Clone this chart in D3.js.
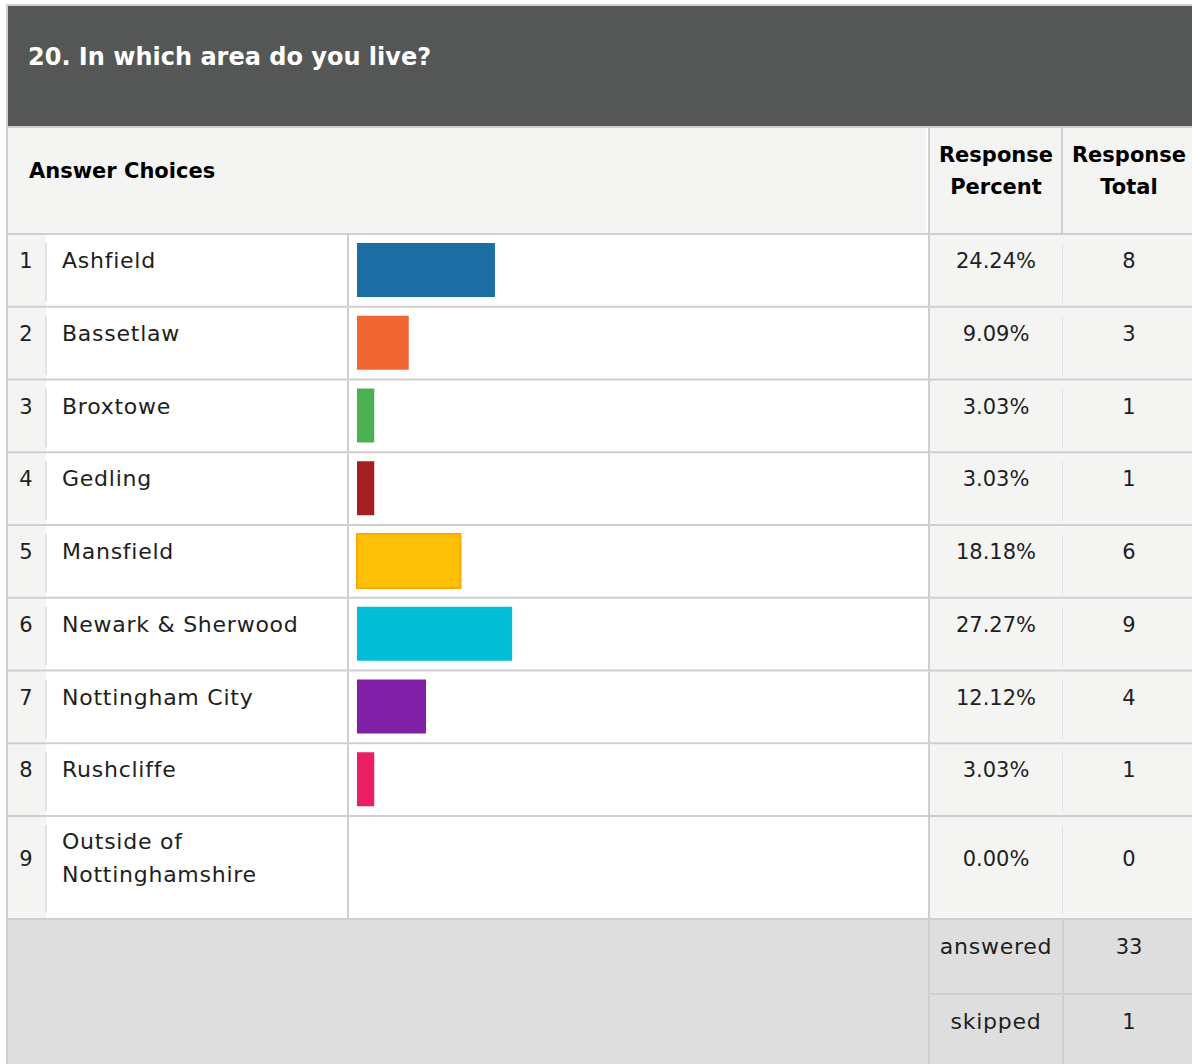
<!DOCTYPE html>
<html>
<head>
<meta charset="utf-8">
<script src="https://cdn.jsdelivr.net/npm/d3@7/dist/d3.min.js"></script>
<style>
  html, body { margin: 0; padding: 0; background: #ffffff; }
  svg { display: block; }
  text { font-family: "Century Gothic", "URW Gothic", "DejaVu Sans", sans-serif; }
</style>
</head>
<body>
<svg id="chart" width="1192" height="1064"></svg>
<script>
// Survey question 20: area of residence
const title = "20. In which area do you live?";
const categories = ["Ashfield", "Bassetlaw", "Broxtowe", "Gedling", "Mansfield",
  "Newark & Sherwood", "Nottingham City", "Rushcliffe", "Outside of Nottinghamshire"];
const percents = [24.24, 9.09, 3.03, 3.03, 18.18, 27.27, 12.12, 3.03, 0.00];
const totals = [8, 3, 1, 1, 6, 9, 4, 1, 0];
const barColors = ["#1c6ea4", "#f06733", "#4caf50", "#a41e22", "#ffc107",
  "#00bcd4", "#7e1fa5", "#e91e63", "#9e9e9e"];
const barStrokes = [null, null, null, null, "#ffa800", null, null, null, null];
const summaryLabels = ["answered", "skipped"];
const summaryValues = [33, 1];

const svg = d3.select("#chart");
const W = 1192, H = 1064;
const grid = "#cfcfcf";
const ink = "#1e1e1e";
const wordSize = 22, wordSpacing = 0.75;

// column edges
const col = { num: [8, 46], label: [47, 347], bar: [349, 928], pct: [930, 1061], tot: [1063, W] };
const pctX = 996, totX = 1129;

// row geometry: eight regular rows, the last one holds two lines of text
const rowTop = d3.scaleLinear().domain([0, 8]).range([234, 816]);
const lastRowBottom = 918;
const rowH = i => (i < 8 ? rowTop(i + 1) - rowTop(i) : lastRowBottom - rowTop(i));

// bar length scale (percent of respondents)
const x = d3.scaleLinear().domain([0, 100]).range([357, 926]);

// frame and title band
svg.append("rect").attr("x", 6).attr("y", 4).attr("width", W - 6).attr("height", H - 4).attr("fill", "#d0d0d0");
svg.append("rect").attr("x", 8).attr("y", 6).attr("width", W - 8).attr("height", 120).attr("fill", "#555756");
svg.append("text").attr("x", 28).attr("y", 65).attr("fill", "#ffffff")
  .attr("font-size", 24).attr("font-weight", "bold").text(title);

// header row
svg.append("rect").attr("x", 8).attr("y", 128).attr("width", W - 8).attr("height", 105).attr("fill", "#f4f4f3");
svg.append("text").attr("x", 29).attr("y", 178).attr("fill", "#000")
  .attr("font-size", 21).attr("font-weight", "bold").text("Answer Choices");
[["Response", "Percent", pctX], ["Response", "Total", totX]].forEach(([a, b, cx]) => {
  const t = svg.append("text").attr("text-anchor", "middle").attr("fill", "#000")
    .attr("font-size", 21).attr("font-weight", "bold");
  t.append("tspan").attr("x", cx).attr("y", 162).text(a);
  t.append("tspan").attr("x", cx).attr("y", 194).text(b);
});
svg.append("rect").attr("x", 926).attr("y", 128).attr("width", 2).attr("height", 105).attr("fill", "#ffffff");
svg.append("rect").attr("x", 928).attr("y", 128).attr("width", 2).attr("height", 105).attr("fill", grid);
svg.append("rect").attr("x", 1061).attr("y", 128).attr("width", 2).attr("height", 105).attr("fill", grid);

// data rows
const rows = svg.append("g").selectAll("g").data(categories).join("g")
  .attr("transform", (d, i) => `translate(0,${rowTop(i)})`);

rows.append("rect").attr("x", 8).attr("y", -1).attr("width", W - 8).attr("height", 2).attr("fill", grid);
rows.append("rect").attr("x", col.num[0]).attr("y", 1).attr("width", col.num[1] - col.num[0])
  .attr("height", (d, i) => rowH(i) - 1).attr("fill", "#f4f4f3");
rows.append("rect").attr("x", col.num[1]).attr("y", 1).attr("width", col.bar[1] - col.num[1] + 1)
  .attr("height", (d, i) => rowH(i) - 1).attr("fill", "#ffffff");
rows.append("rect").attr("x", col.num[1] - 1).attr("y", 9).attr("width", 2)
  .attr("height", (d, i) => rowH(i) - 14).attr("fill", "#e2e2e2");
rows.append("rect").attr("x", col.label[1]).attr("y", 1).attr("width", 2)
  .attr("height", (d, i) => rowH(i) - 1).attr("fill", grid);
rows.append("rect").attr("x", col.pct[0] - 2).attr("y", 1).attr("width", 2)
  .attr("height", (d, i) => rowH(i) - 1).attr("fill", grid);
rows.append("rect").attr("x", col.pct[0]).attr("y", 1).attr("width", W - col.pct[0])
  .attr("height", (d, i) => rowH(i) - 1).attr("fill", "#f4f4f3");
rows.append("rect").attr("x", col.tot[0] - 1).attr("y", 10).attr("width", 1)
  .attr("height", (d, i) => rowH(i) - 14).attr("fill", "#e0e0e0");

// bars
rows.filter((d, i) => percents[i] > 0).append("rect")
  .attr("x", x(0))
  .attr("y", 9)
  .attr("width", d => x(percents[categories.indexOf(d)]) - x(0))
  .attr("height", 54)
  .attr("fill", d => barColors[categories.indexOf(d)])
  .attr("stroke", d => barStrokes[categories.indexOf(d)])
  .attr("stroke-width", d => barStrokes[categories.indexOf(d)] ? 2 : 0);

// row texts
rows.each(function (d, i) {
  const g = d3.select(this);
  const twoLine = i === 8;
  const base = twoLine ? 50 : 34;
  g.append("text").attr("x", 26).attr("y", base).attr("text-anchor", "middle")
    .attr("font-size", 21).attr("fill", ink).text(i + 1);
  const lab = g.append("text").attr("font-size", wordSize).attr("letter-spacing", wordSpacing).attr("fill", ink);
  if (twoLine) {
    lab.append("tspan").attr("x", 62).attr("y", 33).text("Outside of");
    lab.append("tspan").attr("x", 62).attr("y", 66).text("Nottinghamshire");
  } else {
    lab.attr("x", 62).attr("y", base).text(d);
  }
  g.append("text").attr("x", pctX).attr("y", base).attr("text-anchor", "middle")
    .attr("font-size", 21).attr("fill", ink).text(percents[i].toFixed(2) + "%");
  g.append("text").attr("x", totX).attr("y", base).attr("text-anchor", "middle")
    .attr("font-size", 21).attr("fill", ink).text(totals[i]);
});

// summary block
svg.append("rect").attr("x", 8).attr("y", lastRowBottom).attr("width", W - 8).attr("height", 2).attr("fill", grid);
svg.append("rect").attr("x", 8).attr("y", lastRowBottom + 2).attr("width", W - 8).attr("height", H - lastRowBottom - 2).attr("fill", "#dedede");
svg.append("rect").attr("x", col.pct[0] - 2).attr("y", lastRowBottom).attr("width", 2).attr("height", H - lastRowBottom).attr("fill", grid);
svg.append("rect").attr("x", col.tot[0] - 1).attr("y", lastRowBottom).attr("width", 2).attr("height", H - lastRowBottom).attr("fill", grid);
svg.append("rect").attr("x", col.pct[0]).attr("y", 993).attr("width", W - col.pct[0]).attr("height", 2).attr("fill", grid);

const sumTop = d3.scaleLinear().domain([0, 1]).range([920, 995]);
summaryLabels.forEach((lbl, i) => {
  svg.append("text").attr("x", pctX).attr("y", sumTop(i) + 34).attr("text-anchor", "middle")
    .attr("font-size", wordSize).attr("letter-spacing", wordSpacing).attr("fill", ink).text(lbl);
  svg.append("text").attr("x", totX).attr("y", sumTop(i) + 34).attr("text-anchor", "middle")
    .attr("font-size", 21).attr("fill", ink).text(summaryValues[i]);
});
</script>
</body>
</html>
